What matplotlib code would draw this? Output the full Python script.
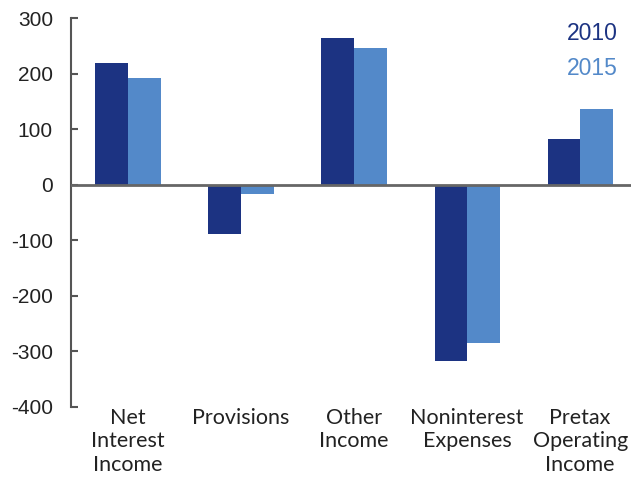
import matplotlib
matplotlib.use('Agg')
import matplotlib.pyplot as plt
import numpy as np

plt.rcParams['axes.unicode_minus'] = False

categories = ['Net\nInterest\nIncome', 'Provisions', 'Other\nIncome',
              'Noninterest\nExpenses', 'Pretax\nOperating\nIncome']
vals_2010 = [219, -88, 264, -317, 83]
vals_2015 = [192, -17, 246, -285, 137]

dark = '#1c3382'
light = '#5389c9'

fig = plt.figure(figsize=(6.31, 4.78), dpi=100)
ax = fig.add_axes([71/631, 71/478, 560/631, 389/478])

x = np.arange(len(categories))
w = 0.288
ax.bar(x - w/2, vals_2010, w, color=dark)
ax.bar(x + w/2, vals_2015, w, color=light)

ax.set_xlim(-0.504, 4.45)
ax.set_ylim(-400, 300)
ax.set_yticks(range(-400, 301, 100))
ax.axhline(0, color='#666666', lw=2, zorder=3)

for s in ['top', 'right', 'bottom']:
    ax.spines[s].set_visible(False)
ax.spines['left'].set_color('#555555')
ax.spines['left'].set_linewidth(1.5)
ax.tick_params(axis='y', direction='in', length=5, width=1.5, color='#555555',
               labelsize=15, pad=13, labelcolor='#222222')
for lab in ax.get_yticklabels():
    lab.set_family('Liberation Sans')
ax.set_xticks([])

for xi, c in zip(x, categories):
    ax.text(xi, -401, c, ha='center', va='top', fontsize=15.5, family='Lato',
            color='#222222', linespacing=1.22)

ax.text(4.33, 273, '2010', ha='right', va='center', fontsize=16.5,
        family='Liberation Sans', color=dark)
ax.text(4.33, 210, '2015', ha='right', va='center', fontsize=16.5,
        family='Liberation Sans', color=light)

fig.savefig('out.png', dpi=100)
